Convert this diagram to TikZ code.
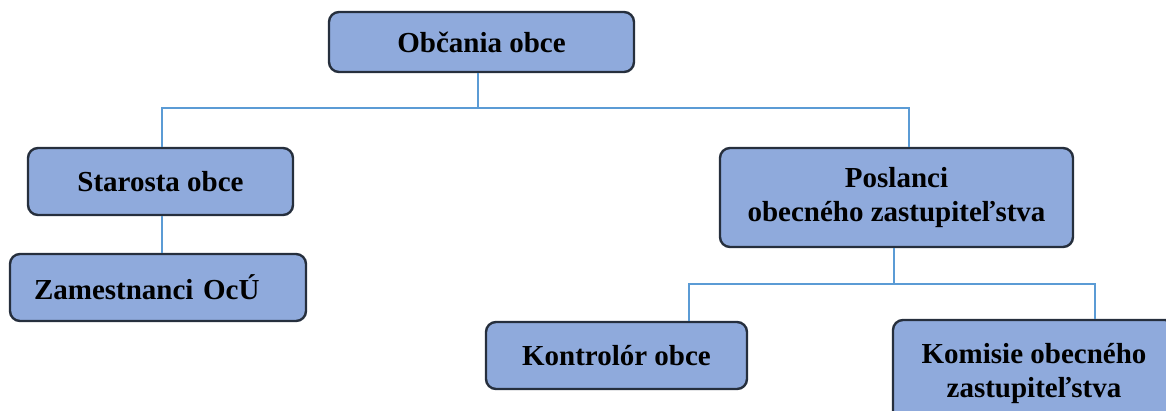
\documentclass[tikz,border=0pt]{standalone}
\usepackage{fontspec}
\setmainfont{Liberation Serif}
\begin{document}
\begin{tikzpicture}[x=1pt,y=-1pt,
  box/.style={draw=boxline, fill=boxfill, line width=2.4pt, rounded corners=10pt,
    font=\bfseries\fontsize{29}{34}\selectfont, align=center, inner sep=0pt},
  conn/.style={draw=connblue, line width=1.1pt}]
\definecolor{boxfill}{HTML}{8FAADC}
\definecolor{boxline}{HTML}{262F3D}
\definecolor{connblue}{HTML}{5B9BD5}
\useasboundingbox (0,0) rectangle (1166,410);
\clip (0,0) rectangle (1166,410);
\node[box, minimum width=305pt, minimum height=60pt] (top) at (481.5,42) {Občania obce};
\node[box, minimum width=265pt, minimum height=67pt] (star) at (160.5,181.5) {Starosta obce};
\node[box, minimum width=296pt, minimum height=67pt, text width=248pt, align=left, inner xsep=24pt] (zam) at (158,287.5) {Zamestnanci OcÚ};
\node[box, minimum width=353pt, minimum height=99pt] (posl) at (896.5,197.5) {Poslanci\\obecného zastupiteľstva};
\node[box, minimum width=261pt, minimum height=67pt] (kont) at (616.5,355.5) {Kontrolór obce};
\node[box, minimum width=282pt, minimum height=108pt] (kom) at (1034,374) {Komisie obecného\\zastupiteľstva};
\coordinate (j1) at (478,108);
\coordinate (j2) at (894,284);
\draw[conn] ([xshift=-3.5pt]top.south) -- (j1);
\draw[conn] ([xshift=1.5pt]star.north) |- (j1) -| ([xshift=12.5pt]posl.north);
\draw[conn] ([xshift=1.5pt]star.south) -- ([xshift=4pt]zam.north);
\draw[conn] ([xshift=-2.5pt]posl.south) -- (j2);
\draw[conn] ([xshift=72.5pt]kont.north) |- (j2) -| ([xshift=61pt]kom.north);
\end{tikzpicture}
\end{document}
